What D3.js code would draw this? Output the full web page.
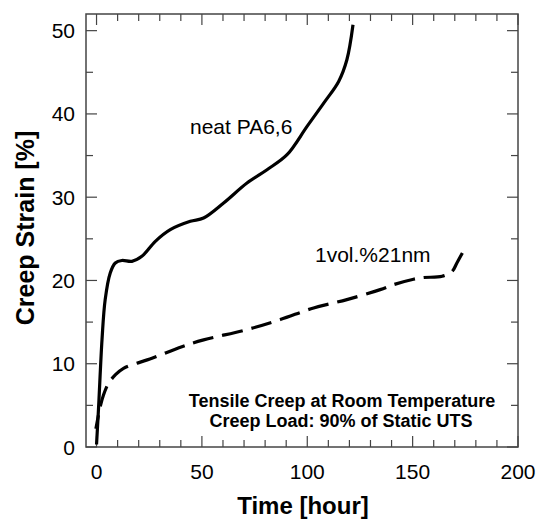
<!DOCTYPE html>
<html>
<head>
<meta charset="utf-8">
<script src="https://cdn.jsdelivr.net/npm/d3@7"></script>
<style>
  body { margin: 0; background: #fff; }
  svg text { font-family: "Liberation Sans", Arial, sans-serif; fill: #000; }
</style>
</head>
<body>
<div id="chart"></div>
<script>
// neat PA6,6 (solid)
const neatTime = [0, 1, 2.6, 4.1, 6.5, 8.9, 12, 16.8, 21.5, 27.9, 35, 44.5, 50.8, 60.3, 71.4, 80.9, 90.4, 99.9, 107.8, 114.9, 118.8, 121.7];
const neatStrain = [0.3, 4.9, 12.9, 17.7, 20.9, 22.1, 22.4, 22.3, 22.9, 24.7, 26.1, 27.1, 27.5, 29.3, 31.7, 33.3, 35.1, 38.5, 41.3, 43.9, 46.5, 50.7];

// 1vol.%21nm (dashed)
const nanoTime = [-0.3, 1.8, 3.3, 5.7, 8.9, 12.8, 26.3, 40.5, 50.8, 71.4, 87.2, 103, 118.8, 134.6, 141, 150.4, 155, 164, 168.7, 171, 173.6];
const nanoStrain = [2.2, 4.9, 6.25, 7.65, 8.65, 9.45, 10.65, 12.05, 12.86, 14.1, 15.3, 16.7, 17.7, 18.9, 19.5, 20.15, 20.35, 20.5, 21.07, 22.1, 23.3];

const xTicks = [0, 50, 100, 150, 200];
const yTicks = [0, 10, 20, 30, 40, 50];

const width = 536, height = 521;
const margin = { top: 14, right: 18, bottom: 74, left: 86 };

const svg = d3.select('#chart').append('svg')
  .attr('width', width)
  .attr('height', height);

const x = d3.scaleLinear().domain([-5, 200]).range([margin.left, width - margin.right]);
const y = d3.scaleLinear().domain([0, 52]).range([height - margin.bottom, margin.top]);

const frameColor = '#444';

// ticks, inward on all four sides
const xMinor = d3.range(0, 201, 10);
const yMinor = d3.range(0, 51, 5);
const tickG = svg.append('g').attr('stroke', frameColor).attr('stroke-width', 1.2);
xMinor.forEach(v => {
  const len = v % 50 === 0 ? 11 : 7;
  tickG.append('line').attr('x1', x(v)).attr('x2', x(v))
    .attr('y1', y.range()[0]).attr('y2', y.range()[0] - len);
  tickG.append('line').attr('x1', x(v)).attr('x2', x(v))
    .attr('y1', y.range()[1]).attr('y2', y.range()[1] + len);
});
yMinor.forEach(v => {
  const len = v % 10 === 0 ? 11 : 7;
  tickG.append('line').attr('y1', y(v)).attr('y2', y(v))
    .attr('x1', x.range()[0]).attr('x2', x.range()[0] + len);
  tickG.append('line').attr('y1', y(v)).attr('y2', y(v))
    .attr('x1', x.range()[1]).attr('x2', x.range()[1] - len);
});

// frame
svg.append('rect')
  .attr('x', x.range()[0]).attr('y', y.range()[1])
  .attr('width', x.range()[1] - x.range()[0])
  .attr('height', y.range()[0] - y.range()[1])
  .attr('fill', 'none').attr('stroke', frameColor).attr('stroke-width', 1.5);

// tick labels
svg.selectAll('.xlab').data(xTicks).join('text')
  .attr('class', 'xlab')
  .attr('x', d => x(d)).attr('y', 479)
  .attr('text-anchor', 'middle')
  .attr('font-size', 21)
  .text(d => d);

svg.selectAll('.ylab').data(yTicks).join('text')
  .attr('class', 'ylab')
  .attr('x', 75).attr('y', d => y(d))
  .attr('dy', '0.36em')
  .attr('text-anchor', 'end')
  .attr('font-size', 21)
  .text(d => d);

// axis titles
svg.append('text')
  .attr('x', 303).attr('y', 514)
  .attr('text-anchor', 'middle')
  .attr('font-size', 24).attr('font-weight', 'bold')
  .text('Time [hour]');

svg.append('text')
  .attr('transform', `translate(34,228) rotate(-90)`)
  .attr('text-anchor', 'middle')
  .attr('font-size', 25).attr('font-weight', 'bold')
  .text('Creep Strain [%]');

// curves
const line = d3.line()
  .x(d => x(d[0]))
  .y(d => y(d[1]))
  .curve(d3.curveCatmullRom.alpha(0.5));

svg.append('path')
  .datum(d3.zip(neatTime, neatStrain))
  .attr('d', line)
  .attr('fill', 'none')
  .attr('stroke', '#000')
  .attr('stroke-width', 3.2);

const dashLen = 21, gapLen = 9;
const nanoPath = svg.append('path')
  .datum(d3.zip(nanoTime, nanoStrain))
  .attr('d', line)
  .attr('fill', 'none')
  .attr('stroke', '#000')
  .attr('stroke-width', 3.2)
  .attr('stroke-dasharray', `${dashLen},${gapLen}`);
// shift dash phase so the curve ends on the end of a dash
const L = nanoPath.node().getTotalLength();
const period = dashLen + gapLen;
nanoPath.attr('stroke-dashoffset', ((dashLen - L) % period + period) % period);

// annotations
svg.append('text')
  .attr('x', 190).attr('y', 134)
  .attr('font-size', 21)
  .text('neat PA6,6');

svg.append('text')
  .attr('x', 315).attr('y', 262)
  .attr('font-size', 21)
  .text('1vol.%21nm');

const note = svg.append('text')
  .attr('text-anchor', 'middle')
  .attr('font-size', 18).attr('font-weight', 'bold');
note.append('tspan').attr('x', 342).attr('y', 407).text('Tensile Creep at Room Temperature');
note.append('tspan').attr('x', 341).attr('y', 427).text('Creep Load: 90% of Static UTS');
</script>
</body>
</html>
